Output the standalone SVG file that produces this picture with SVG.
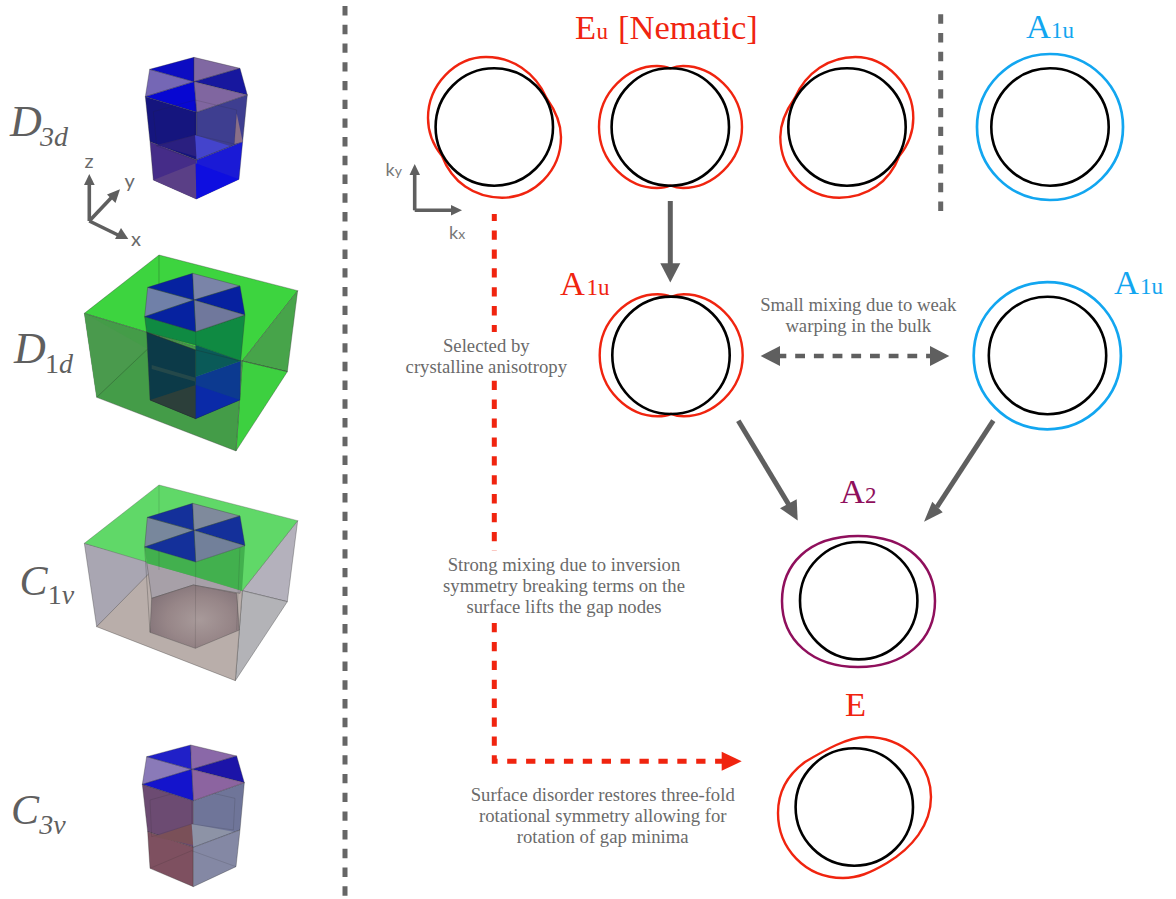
<svg xmlns="http://www.w3.org/2000/svg" width="1176" height="899" viewBox="0 0 1176 899">
<style>
text{font-family:"Liberation Serif","Times New Roman",serif}
.sym{font-style:italic;fill:#5f5f5f;font-size:44px}
.symc{font-size:42px}
.sub{font-size:28px}
.up{font-style:normal}
.note{font-size:18.7px;fill:#6a6a6a;text-anchor:middle}
.ax{font-family:Lato,"Open Sans",sans-serif;font-size:20px;fill:#6a6a6a}
.ax2{font-family:Lato,"Open Sans",sans-serif;font-size:18px;fill:#777}
.blk{fill:none;stroke:#000;stroke-width:2.6}
.red{fill:none;stroke:#f0240f;stroke-width:2.4}
.blu{fill:none;stroke:#12a6f0;stroke-width:2.7}
.pur{fill:none;stroke:#8f0f5c;stroke-width:2.5}
.g{stroke:#5f5f5f;stroke-width:5;fill:none}
.gf{fill:#5f5f5f}
.rd{stroke:#f0240f;stroke-width:5;fill:none;stroke-dasharray:9.3 9.6}
.dv{stroke:#666;stroke-width:5;stroke-dasharray:9.4 9.33}
.e{stroke:#333;stroke-opacity:.5;stroke-width:2;stroke-linejoin:round}
.l{stroke:#222;stroke-opacity:.4;stroke-width:2;fill:none}
.f{stroke:#222;stroke-opacity:.22;stroke-width:2;fill:none}
</style>
<defs>
<radialGradient id="floor" cx=".55" cy=".55" r=".6"><stop offset="0" stop-color="#a89a9a"/><stop offset=".6" stop-color="#978688"/><stop offset="1" stop-color="#85757a"/></radialGradient>
</defs>

<g id="divider-main"><line class="dv" x1="345" y1="6" x2="345" y2="896"/></g>
<g id="divider-top"><line class="dv" x1="940.700" y1="14.300" x2="940.700" y2="212"/></g>

<g id="prism-d3d" transform="translate(0,40) scale(.33333)">
<polygon class="e" fill="#7567b5" points="436,170 449,88 582,125"/>
<polygon class="e" fill="#0c0cc2" points="449,88 582,52 582,125"/>
<polygon class="e" fill="#8068a2" points="582,52 720,85 582,125"/>
<polygon class="e" fill="#17179e" points="720,85 742,165 582,125"/>
<polygon class="e" fill="#8066a0" points="742,165 590,217 582,125"/>
<polygon class="e" fill="#0707d2" points="590,217 436,170 582,125"/>
<polygon class="e" fill="#15157e" points="436,170 590,217 590,360 450,305"/>
<polygon class="e" fill="#3e3e90" points="590,217 742,165 728,305 590,360"/>
<polygon class="e" fill="#452c88" points="450,305 590,360 589,477 460,420"/>
<polygon class="e" fill="#1a1ad6" points="590,360 728,305 717,418 589,477"/>
<polygon fill="#5a3f86" points="460,420 587,370 589,477"/>
<polygon fill="#0e0ee0" points="587,370 717,418 589,477"/>
<polygon fill="#2a1f80" points="470,315 585,285 590,350"/>
<polygon fill="#4444cc" points="585,285 690,318 590,358"/>
<polygon fill="#8a6f88" points="710,220 728,305 703,312"/>
<polyline class="f" points="460,215 585,180 710,210 703,312 585,285 470,318 460,215"/>
<line class="f" x1="585" y1="180" x2="585" y2="285"/>
<line class="f" x1="470" y1="318" x2="587" y2="360"/>
</g>
<g id="axes-xyz">
<g class="g" style="stroke-width:3.6"><line x1="89.300" y1="221" x2="89.300" y2="185"/><line x1="89.300" y1="221" x2="112" y2="197"/><line x1="89.300" y1="221" x2="118" y2="235"/></g>
<polygon class="gf" points="89.300,174 84,185 94.700,185"/>
<polygon class="gf" points="120,189.300 107,194.500 115.500,203"/>
<polygon class="gf" points="128.300,239 121,228 115,239"/>
<text class="ax" x="84.500" y="168">z</text><text class="ax" x="124.500" y="188">y</text><text class="ax" x="131" y="246">x</text>
</g>
<g id="label-d3d"><text class="sym" x="10" y="136">D<tspan class="sub" x="40" y="146">3d</tspan></text></g>

<g id="prism-d1d" transform="translate(0,245) scale(.33333)">
<polygon class="e" fill="#3dd43f" points="477,30 893,137 727,348 253,205"/>
<polygon class="e" fill="#47a44a" points="727,348 893,137 862,380"/>
<polygon class="e" fill="#3dd040" points="727,348 862,380 708,618"/>
<polygon class="e" fill="#449c48" points="253,205 727,348 708,618 290,457"/>
<polygon fill="#4a9a4d" points="253,205 440,310 290,457"/>
<line class="l" x1="477" y1="30" x2="477" y2="310"/><line class="l" x1="290" y1="457" x2="477" y2="280"/><line class="l" x1="862" y1="380" x2="727" y2="348"/>
<polygon class="e" fill="#0f8a42" points="434,215 587,260 735,210 722,348 587,300 440,262"/>
<polygon class="e" fill="#0c3a48" points="440,262 587,315 587,521 450,465"/>
<polygon fill="#0a5a58" points="587,300 722,348 587,395"/>
<polygon fill="#0c3a90" points="587,395 722,348 720,465 587,521"/>
<polygon fill="#2c3f3a" points="450,465 587,420 587,521"/>
<polygon fill="#0a2aa8" points="587,420 720,465 587,521"/>
<polygon fill="#24484a" points="455,360 587,398 587,410 455,372"/>
<polygon class="e" fill="#7080a8" points="434,215 443,127 582,165"/>
<polygon class="e" fill="#0622a0" points="443,127 578,85 582,165"/>
<polygon class="e" fill="#7a84a8" points="578,85 720,123 582,165"/>
<polygon class="e" fill="#0620a0" points="720,123 735,210 582,165"/>
<polygon class="e" fill="#70789c" points="735,210 587,260 582,165"/>
<polygon class="e" fill="#0622a0" points="587,260 434,215 582,165"/>
<polyline class="l" points="440,262 587,315 722,348"/><line class="f" x1="587" y1="260" x2="587" y2="521"/><polyline class="l" points="450,465 587,521 720,465"/><line x1="722" y1="348" x2="720" y2="465" class="f"/>
</g>
<g id="label-d1d"><text class="sym" x="14" y="363">D<tspan class="sub up" x="45" y="373">1</tspan><tspan class="sub" y="373">d</tspan></text></g>

<g id="prism-c1v" transform="translate(0,470) scale(.33333)">
<polygon class="e" fill="#b4b1bc" points="727,362 893,152 862,395"/>
<polygon class="e" fill="#b3b3b7" points="727,362 862,395 706,632"/>
<polygon class="e" fill="#a9a6b2" points="253,220 290,470 477,300 477,280"/>
<polygon class="e" fill="#b9aeaa" points="290,470 477,280 727,362 706,632"/>
<polygon class="e" fill="#a7a0a8" points="434,231 587,276 735,227 720,370 580,345 455,385"/>
<polygon fill="url(#floor)" stroke="#444" stroke-opacity=".55" stroke-width="2" points="455,385 580,345 710,370 718,480 586,535 450,487"/>
<polygon fill="#60d868" stroke="#555" stroke-opacity=".5" stroke-width="2" points="477,45 893,152 727,362 253,220"/>
<polygon fill="#42b04e" points="434,231 587,276 735,227 726,362 587,320 440,280"/>
<line class="f" x1="587" y1="276" x2="586" y2="535"/><line class="f" x1="477" y1="45" x2="477" y2="300"/><line class="f" x1="720" y1="230" x2="710" y2="480"/><line class="l" x1="434" y1="231" x2="450" y2="487"/>
<polygon class="e" fill="#78879c" points="434,231 442,142 582,181"/>
<polygon class="e" fill="#14309a" points="442,142 578,100 582,181"/>
<polygon class="e" fill="#7f8a9c" points="578,100 720,138 582,181"/>
<polygon class="e" fill="#14309a" points="720,138 735,227 582,181"/>
<polygon class="e" fill="#72809a" points="735,227 587,276 582,181"/>
<polygon class="e" fill="#14309a" points="587,276 434,231 582,181"/>
</g>
<g id="label-c1v"><text class="sym symc" x="19.500" y="595">C<tspan class="sub up" x="47.800" y="604">1</tspan><tspan class="sub" y="604">v</tspan></text></g>

<g id="prism-c3v" transform="translate(0,730) scale(.33333)">
<polygon class="e" fill="#6c4b72" points="427,163 580,212 580,352 443,305"/>
<polygon class="e" fill="#6f7599" points="580,212 733,158 720,300 580,352"/>
<polygon class="e" fill="#7e5060" points="443,305 580,352 580,470 450,415"/>
<polygon class="e" fill="#8488a4" points="580,352 720,300 708,410 580,470"/>
<polygon fill="#7a5058" points="462,320 575,282 580,345"/>
<polygon fill="#8d93a6" points="575,282 700,305 580,350"/>
<polyline class="f" points="450,210 575,175 705,205 700,300 575,282 455,320 450,210"/>
<polyline class="f" points="450,415 575,362 708,410"/>
<line class="f" x1="575" y1="175" x2="575" y2="282"/>
<polygon class="e" fill="#8a7ab8" points="427,163 440,80 575,118"/>
<polygon class="e" fill="#2020c8" points="440,80 572,45 575,118"/>
<polygon class="e" fill="#8a68a8" points="572,45 710,78 575,118"/>
<polygon class="e" fill="#1c14a8" points="710,78 733,158 575,118"/>
<polygon class="e" fill="#8c64a0" points="733,158 580,212 575,118"/>
<polygon class="e" fill="#1414cc" points="580,212 427,163 575,118"/>
</g>
<g id="label-c3v"><text class="sym symc" x="11" y="824">C<tspan class="sub" x="39.300" y="834">3v</tspan></text></g>

<g id="axes-k">
<g class="g" style="stroke-width:3.6"><line x1="414.700" y1="210.300" x2="414.700" y2="174"/><line x1="414.700" y1="210.300" x2="452" y2="210.300"/></g>
<polygon class="gf" points="414.700,164 409.500,175 420,175"/>
<polygon class="gf" points="462,210.300 451,205 451,215.500"/>
<text class="ax2" x="385.500" y="175.500">k<tspan font-size="14">y</tspan></text>
<text class="ax2" x="449" y="238.500">k<tspan font-size="14">x</tspan></text>
</g>

<g id="node-eu-1"><path class="red" d="M546.500,98C535,72 512,57 486,57C455,57 428,85 428,118C428,132 433,145 442,156C452,182 474,197.700 502,197.700C534,197.700 561,171 561,137C561,122 555,110 546.500,98Z"/><circle class="blk" cx="494.300" cy="127" r="58.700"/></g>
<g id="node-eu-2"><path class="red" d="M670.300,68.500C674,67 678,66 683,66C712,66 742,92 742,127C742,162 712,188 683,188C678,188 674,187 670.300,185.500C667,187 662,188 657,188C628,188 599,162 599,127C599,92 628,66 657,66C662,66 667,67 670.300,68.500Z"/><circle class="blk" cx="670.300" cy="127" r="58.700"/></g>
<g id="node-eu-3"><path class="red" d="M794.800,98C806.300,72 829.300,57 855.300,57C886.300,57 913.300,85 913.300,118C913.300,132 908.300,145 899.300,156C889.300,182 867.300,197.700 839.300,197.700C807.300,197.700 780.300,171 780.300,137C780.300,122 786.300,110 794.800,98Z"/><circle class="blk" cx="847" cy="127" r="58.700"/></g>
<g id="node-a1u-top"><circle class="blu" cx="1050" cy="127" r="73"/><circle class="blk" cx="1050" cy="127" r="58.700"/></g>
<g id="node-a1u-left"><path class="red" d="M671,296.800C674.700,295.300 678.700,294.300 683.700,294.300C712.700,294.300 742.700,320.300 742.700,355.300C742.700,390.300 712.700,416.300 683.700,416.300C678.700,416.300 674.700,415.300 671,413.800C667.700,415.300 662.700,416.300 657.700,416.300C628.700,416.300 599.700,390.300 599.700,355.300C599.700,320.300 628.700,294.300 657.700,294.300C662.700,294.300 667.700,295.300 671,296.800Z"/><circle class="blk" cx="671" cy="355.300" r="58.700"/></g>
<g id="node-a1u-right"><circle class="blu" cx="1047.300" cy="355.700" r="73.600"/><circle class="blk" cx="1047.500" cy="355.500" r="58.700"/></g>
<g id="node-a2"><path class="pur" d="M858,536C908,536 935,565 935,601C935,640 905,667 858,667C812,667 782,640 782,601C782,565 808,536 858,536Z"/><circle class="blk" cx="858.700" cy="600.700" r="58.700"/></g>
<g id="node-e"><path class="red" d="M866,737C905,737 931,765 931,797C931,825 912,848 887,863C870,873 858,878 843,878C805,878 778,848 778,813C778,790 790,773 805,762C825,750 848,737 866,737Z"/><circle class="blk" cx="854.300" cy="807" r="58.700"/></g>

<g id="labels" font-size="34.500">
<text fill="#f0240f" y="38.500"><tspan x="575">E</tspan><tspan x="596.500" font-size="23">u</tspan><tspan x="618">[Nematic]</tspan></text>
<text fill="#12a6f0" y="38"><tspan x="1026">A</tspan><tspan x="1051" font-size="23">1u</tspan></text>
<text fill="#f0240f" y="294.500"><tspan x="560">A</tspan><tspan x="586.500" font-size="23">1u</tspan></text>
<text fill="#12a6f0" y="294"><tspan x="1114">A</tspan><tspan x="1140" font-size="23">1u</tspan></text>
<text fill="#8f0f5c" y="502.500"><tspan x="840">A</tspan><tspan x="865" font-size="23">2</tspan></text>
<text fill="#f0240f" y="716" x="845">E</text>
<text class="note"><tspan x="486.300" y="352">Selected by</tspan><tspan x="486.300" y="372.700">crystalline anisotropy</tspan></text>
<text class="note"><tspan x="858.300" y="311">Small mixing due to weak</tspan><tspan x="858.300" y="332">warping in the bulk</tspan></text>
<text class="note"><tspan x="564" y="570.700">Strong mixing due to inversion</tspan><tspan x="564" y="591.700">symmetry breaking terms on the</tspan><tspan x="564" y="612.700">surface lifts the gap nodes</tspan></text>
<text class="note"><tspan x="602.700" y="800.700">Surface disorder restores three-fold</tspan><tspan x="602.700" y="821.700">rotational symmetry allowing for</tspan><tspan x="602.700" y="842.700">rotation of gap minima</tspan></text>
</g>

<g id="connectors">
<line class="g" x1="670.300" y1="201" x2="670.300" y2="265"/><polygon class="gf" points="670.300,282.500 660.300,263.300 680.300,263.300"/>
<line class="g" x1="738.300" y1="420.700" x2="789" y2="505"/><polygon class="gf" points="797.700,520.500 780,508.300 796.700,499.300"/>
<line class="g" x1="993.300" y1="420.700" x2="937" y2="507"/><polygon class="gf" points="924,521.700 932.300,501.700 942.700,512.300"/>
<line class="g" x1="776" y1="356" x2="935" y2="356" stroke-dasharray="9.800 8.900" stroke-dashoffset="-0.500" style="stroke-width:4.500"/>
<polygon class="gf" points="760.700,356 780,346 780,366"/><polygon class="gf" points="949.300,356 930,346 930,366"/>
<line class="rd" x1="494.300" y1="214" x2="494.300" y2="332" stroke-dashoffset="2.400"/>
<line class="rd" x1="494.300" y1="380.700" x2="494.300" y2="551"/>
<path class="rd" d="M494.300,623V761.300H724"/>
<polygon points="741.700,761.300 721.700,751.800 721.700,770.800" fill="#f0240f"/>
</g>
</svg>
